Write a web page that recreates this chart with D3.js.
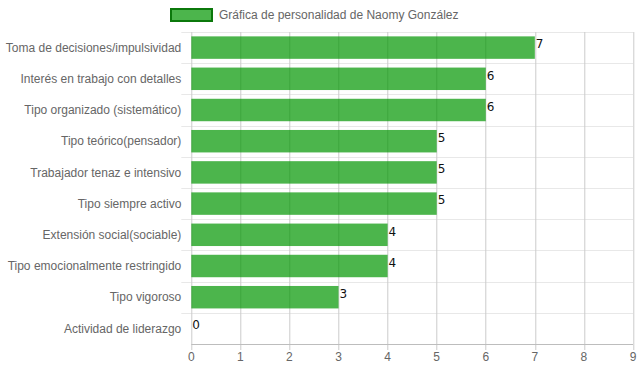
<!DOCTYPE html>
<html>
<head>
<meta charset="utf-8">
<script src="https://cdn.jsdelivr.net/npm/d3@7"></script>
<style>
  body { margin: 0; background: #fff; }
  svg { display: block; font-family: "Liberation Sans", Arial, sans-serif; }
</style>
</head>
<body>
<div id="chart"></div>
<script>
const categories = [
  "Toma de decisiones/impulsividad",
  "Interés en trabajo con detalles",
  "Tipo organizado (sistemático)",
  "Tipo teórico(pensador)",
  "Trabajador tenaz e intensivo",
  "Tipo siempre activo",
  "Extensión social(sociable)",
  "Tipo emocionalmente restringido",
  "Tipo vigoroso",
  "Actividad de liderazgo"
]
const values = [7, 6, 6, 5, 5, 5, 4, 4, 3, 0]
const xTicks = [0, 1, 2, 3, 4, 5, 6, 7, 8, 9]
const seriesName = "Gráfica de personalidad de Naomy González"

const W = 639, H = 372
const MARGIN = { TOP: 32, BOTTOM: 28, LEFT: 191.3, RIGHT: 6 }
const WIDTH = W - MARGIN.LEFT - MARGIN.RIGHT
const HEIGHT = H - MARGIN.TOP - MARGIN.BOTTOM

const BAR_FILL = "rgba(0,150,0,0.7)"

const svg = d3.select("#chart")
  .append("svg")
    .attr("width", W)
    .attr("height", H)

const g = svg.append("g")
    .attr("transform", `translate(${MARGIN.LEFT}, ${MARGIN.TOP})`)

const x = d3.scaleLinear()
    .domain([0, 9])
    .range([0, WIDTH])

const y = d3.scaleBand()
    .domain(categories)
    .range([0, HEIGHT])
    .paddingInner(0.28)
    .paddingOuter(0.14)

const step = y.step()

// horizontal grid (category boundaries)
g.append("g")
  .selectAll("line")
  .data(d3.range(categories.length))
  .join("line")
    .attr("x1", -10)
    .attr("x2", WIDTH)
    .attr("y1", i => Math.round(i * step) + 0.5)
    .attr("y2", i => Math.round(i * step) + 0.5)
    .attr("stroke", "#e8e8e8")

// vertical grid
g.append("g")
  .selectAll("line")
  .data(xTicks)
  .join("line")
    .attr("x1", d => Math.round(x(d)) + 0.5)
    .attr("x2", d => Math.round(x(d)) + 0.5)
    .attr("y1", 0)
    .attr("y2", HEIGHT + 6)
    .attr("stroke", "#cbcbcb")

// bottom axis line
g.append("line")
    .attr("x1", 0)
    .attr("x2", WIDTH)
    .attr("y1", Math.round(HEIGHT) + 0.5)
    .attr("y2", Math.round(HEIGHT) + 0.5)
    .attr("stroke", "#bdbdbd")

// bars
g.append("g")
  .selectAll("rect")
  .data(values)
  .join("rect")
    .attr("x", 0)
    .attr("y", (d, i) => y(categories[i]))
    .attr("width", d => x(d))
    .attr("height", y.bandwidth())
    .attr("fill", BAR_FILL)

// value labels
g.append("g")
  .selectAll("text")
  .data(values)
  .join("text")
    .attr("x", d => x(d) + 1)
    .attr("y", (d, i) => y(categories[i]) + 12)
    .attr("font-size", 12)
    .attr("font-family", "'DejaVu Sans', sans-serif")
    .attr("fill", "#111")
    .text(d => d)

// category labels
g.append("g")
  .selectAll("text")
  .data(categories)
  .join("text")
    .attr("x", -10)
    .attr("y", d => y(d) + y.bandwidth() / 2)
    .attr("dy", "0.35em")
    .attr("text-anchor", "end")
    .attr("font-size", 12)
    .attr("fill", "#666")
    .text(d => d)

// x tick labels
g.append("g")
  .selectAll("text")
  .data(xTicks)
  .join("text")
    .attr("x", d => x(d))
    .attr("y", HEIGHT + 13)
    .attr("dy", "0.35em")
    .attr("text-anchor", "middle")
    .attr("font-size", 12)
    .attr("fill", "#666")
    .text(d => d)

// legend
const legend = svg.append("g")
    .attr("transform", "translate(171, 9)")

legend.append("rect")
    .attr("width", 41)
    .attr("height", 12)
    .attr("fill", BAR_FILL)
    .attr("stroke", "#0b780b")
    .attr("stroke-width", 2)

legend.append("text")
    .attr("x", 48)
    .attr("y", 6)
    .attr("dy", "0.35em")
    .attr("font-size", 12)
    .attr("fill", "#666")
    .text(seriesName)
</script>
</body>
</html>
